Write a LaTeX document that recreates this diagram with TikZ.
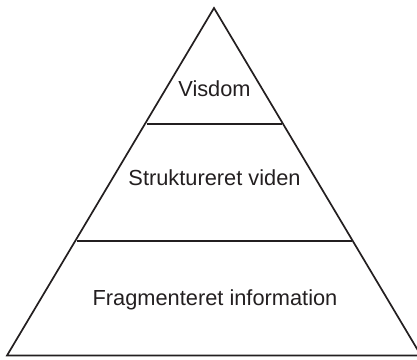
\documentclass[tikz,border=0pt]{standalone}
\usepackage{fontspec}
\setmainfont{Liberation Sans}
\definecolor{ink}{HTML}{231F20}
\begin{document}
\begin{tikzpicture}[x=1pt,y=-1pt,
  edge/.style={draw=ink,line width=1.7pt,line join=miter},
  label/.style={text=ink,anchor=base,inner sep=0pt,font=\fontsize{21.8}{26}\selectfont}]
\useasboundingbox (0,0) rectangle (417,359);
\begin{scope}
\clip (0,0) rectangle (417,359);
\coordinate (apex) at (214,8);
\coordinate (bl) at (7,355.5);
\coordinate (br) at (421,355.5);
\draw[edge] (apex) -- (bl) -- (br) -- cycle;
\end{scope}
\coordinate (a1) at (146.5,124);
\coordinate (b1) at (281.5,124);
\coordinate (a2) at (76.5,241);
\coordinate (b2) at (351.5,241);
\draw[edge] (a1) -- (b1);
\draw[edge] (a2) -- (b2);
\node[label] (visdom) at (214.5,96) {Visdom};
\node[label] (viden) at (214.5,185.5) {Struktureret viden};
\node[label] (info) at (215,305) {Fragmenteret information};
\end{tikzpicture}
\end{document}
